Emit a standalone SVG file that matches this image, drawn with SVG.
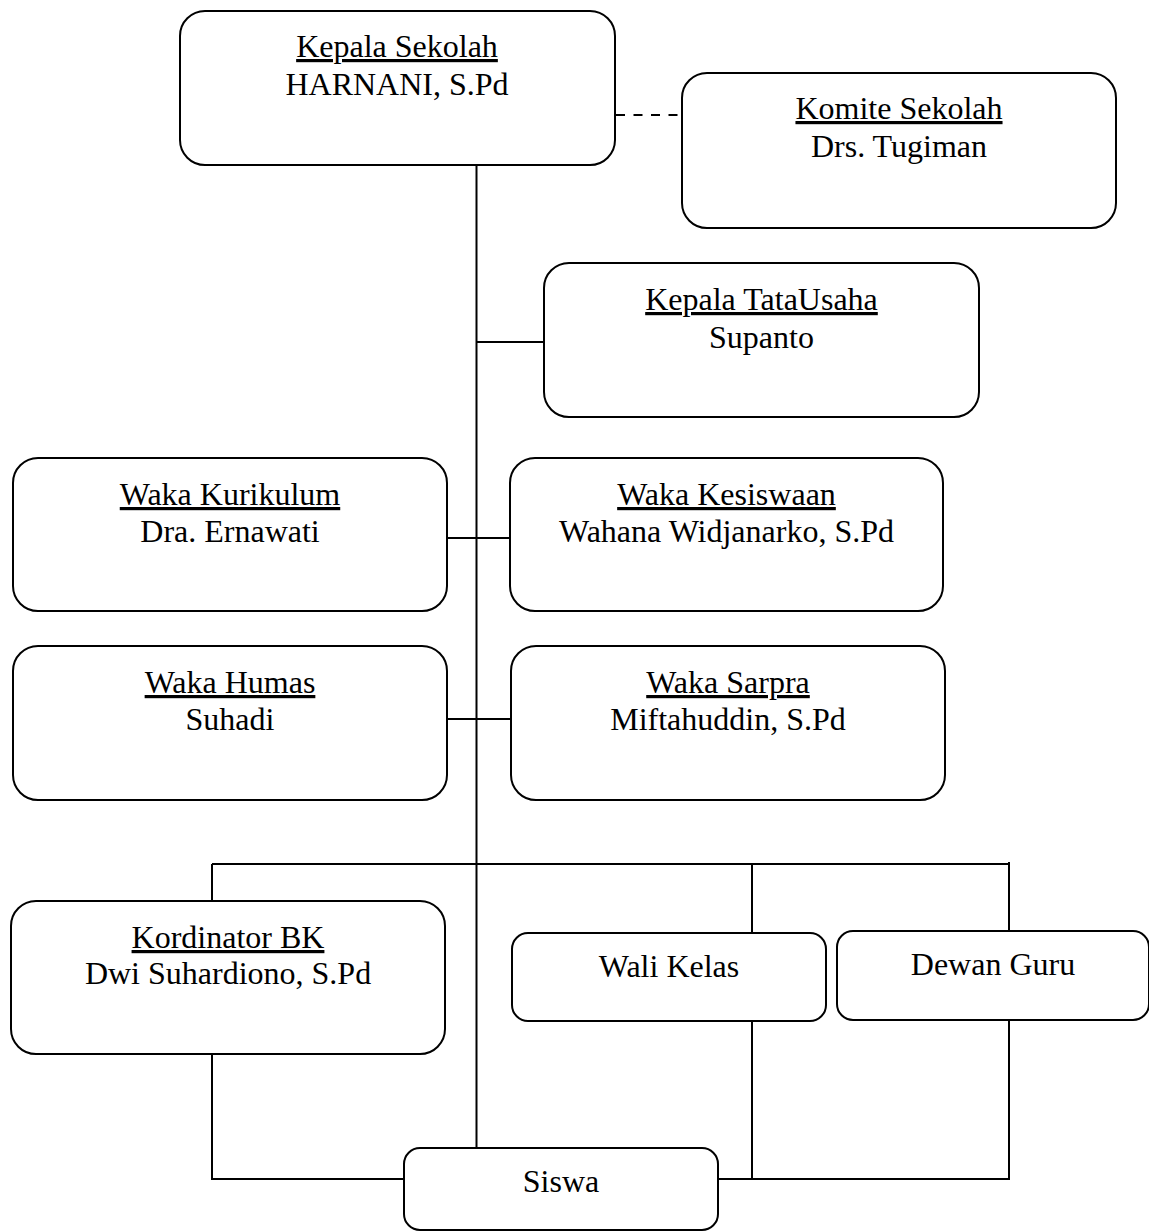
<svg xmlns="http://www.w3.org/2000/svg" width="1149" height="1231" viewBox="0 0 1149 1231">
  <style>
    .box { fill: #ffffff; stroke: #000000; stroke-width: 2; }
    .line { fill: none; stroke: #000000; stroke-width: 2; }
    .dash { fill: none; stroke: #000000; stroke-width: 2; stroke-dasharray: 9 8.5; }
    text { font-family: "Liberation Serif", "Times New Roman", serif; font-size: 32px; fill: #000000; text-anchor: middle; }
    .title { text-decoration: underline; }
  </style>
  <rect x="0" y="0" width="1149" height="1231" fill="#ffffff"/>

  <g id="connectors">
    <path class="line" d="M476.5 165 V1148"/>
    <path class="dash" d="M616 115 H681"/>
    <path class="line" d="M476.5 342 H544"/>
    <path class="line" d="M447 538 H510"/>
    <path class="line" d="M447 719 H511"/>
    <path class="line" d="M212 864 H1009"/>
    <path class="line" d="M212 864 V901"/>
    <path class="line" d="M752 864 V933"/>
    <path class="line" d="M1009 862 V931"/>
    <path class="line" d="M212 1054 V1179 H404"/>
    <path class="line" d="M752 1021 V1179"/>
    <path class="line" d="M718 1179 H1009 V1020"/>
  </g>

  <g id="kepala-sekolah">
    <rect class="box" x="180" y="11" width="435" height="154" rx="25" ry="25"/>
    <text class="title" x="397" y="57">Kepala Sekolah</text>
    <text x="397" y="95">HARNANI, S.Pd</text>
  </g>

  <g id="komite-sekolah">
    <rect class="box" x="682" y="73" width="434" height="155" rx="25" ry="25"/>
    <text class="title" x="899" y="119">Komite Sekolah</text>
    <text x="899" y="157">Drs. Tugiman</text>
  </g>

  <g id="kepala-tata-usaha">
    <rect class="box" x="544" y="263" width="435" height="154" rx="25" ry="25"/>
    <text class="title" x="761.5" y="310">Kepala TataUsaha</text>
    <text x="761.5" y="348">Supanto</text>
  </g>

  <g id="waka-kurikulum">
    <rect class="box" x="13" y="458" width="434" height="153" rx="25" ry="25"/>
    <text class="title" x="230" y="505">Waka Kurikulum</text>
    <text x="230" y="542">Dra. Ernawati</text>
  </g>

  <g id="waka-kesiswaan">
    <rect class="box" x="510" y="458" width="433" height="153" rx="25" ry="25"/>
    <text class="title" x="726.5" y="505">Waka Kesiswaan</text>
    <text x="726.5" y="542">Wahana Widjanarko, S.Pd</text>
  </g>

  <g id="waka-humas">
    <rect class="box" x="13" y="646" width="434" height="154" rx="25" ry="25"/>
    <text class="title" x="230" y="693">Waka Humas</text>
    <text x="230" y="730">Suhadi</text>
  </g>

  <g id="waka-sarpra">
    <rect class="box" x="511" y="646" width="434" height="154" rx="25" ry="25"/>
    <text class="title" x="728" y="693">Waka Sarpra</text>
    <text x="728" y="730">Miftahuddin, S.Pd</text>
  </g>

  <g id="kordinator-bk">
    <rect class="box" x="11" y="901" width="434" height="153" rx="25" ry="25"/>
    <text class="title" x="228" y="948">Kordinator BK</text>
    <text x="228" y="984">Dwi Suhardiono, S.Pd</text>
  </g>

  <g id="wali-kelas">
    <rect class="box" x="512" y="933" width="314" height="88" rx="16" ry="16"/>
    <text x="669" y="977">Wali Kelas</text>
  </g>

  <g id="dewan-guru">
    <rect class="box" x="837" y="931" width="312" height="89" rx="16" ry="16"/>
    <text x="993" y="975">Dewan Guru</text>
  </g>

  <g id="siswa">
    <rect class="box" x="404" y="1148" width="314" height="82" rx="16" ry="16"/>
    <text x="561" y="1192">Siswa</text>
  </g>
</svg>
